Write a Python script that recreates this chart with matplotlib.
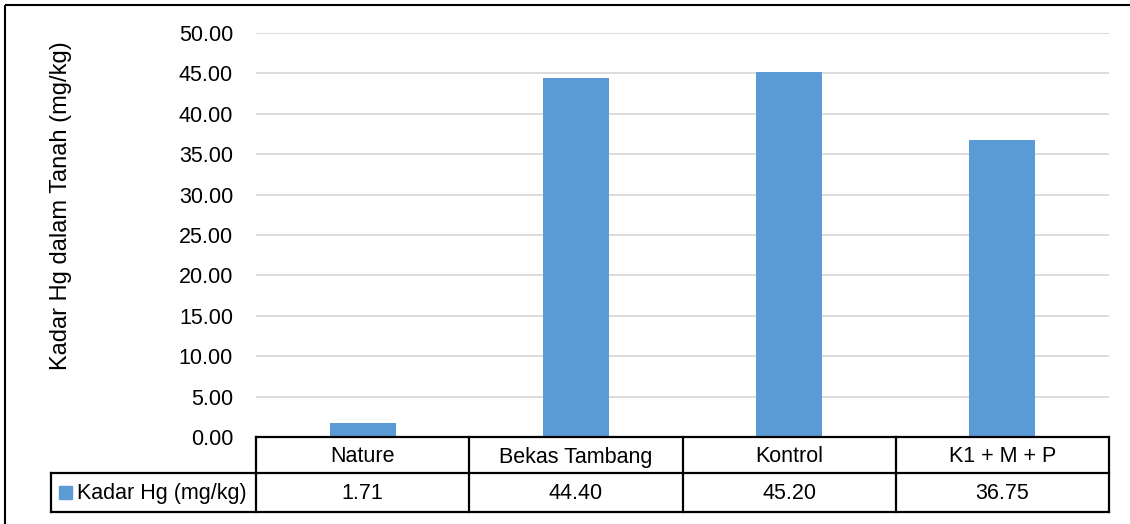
import matplotlib
matplotlib.use("Agg")
import matplotlib.pyplot as plt
from matplotlib.lines import Line2D
from matplotlib.patches import Rectangle

categories = ["Nature", "Bekas Tambang", "Kontrol", "K1 + M + P"]
values = [1.71, 44.40, 45.20, 36.75]
value_labels = ["1.71", "44.40", "45.20", "36.75"]
series_name = "Kadar Hg (mg/kg)"
y_label = "Kadar Hg dalam Tanah (mg/kg)"
y_ticks = [0, 5, 10, 15, 20, 25, 30, 35, 40, 45, 50]

BAR_COLOR = "#5B9BD5"
GRID_COLOR = "#D9D9D9"
FONT = "Liberation Sans"
FS = 15.5
FS_TITLE = 17

W, H = 1130, 524
fig = plt.figure(figsize=(W / 100, H / 100), dpi=100)
fig.patch.set_facecolor("white")

# pixel geometry
left_px, right_px = 256, 1109
top_px, zero_px = 33, 437
row1_bottom, row2_bottom = 473, 512
legend_left = 51

ax = fig.add_axes([left_px / W, 1 - zero_px / H, (right_px - left_px) / W, (zero_px - top_px) / H])
x = list(range(len(categories)))
ax.bar(x, values, width=0.31, color=BAR_COLOR, zorder=3)
ax.set_xlim(-0.5, len(categories) - 0.5)
ax.set_ylim(0, 50)
ax.set_yticks(y_ticks)
ax.set_yticklabels([f"{t:.2f}" for t in y_ticks], fontsize=FS, family=FONT)
ax.tick_params(axis="y", length=0, pad=16.5)
ax.set_xticks([])
for s in ax.spines.values():
    s.set_visible(False)
ax.yaxis.grid(True, color=GRID_COLOR, linewidth=1.3, zorder=0)
ax.set_axisbelow(True)

# overlay in pixel coordinates
ov = fig.add_axes([0, 0, 1, 1], facecolor="none")
ov.set_xlim(0, W)
ov.set_ylim(H, 0)
ov.axis("off")

ov.text(61, 206, y_label, rotation=90, ha="center", va="center", fontsize=FS_TITLE, family=FONT)

lw = 1.6
col_w = (right_px - left_px) / len(categories)
# horizontal lines
ov.add_line(Line2D([left_px, right_px], [zero_px, zero_px], color="black", lw=lw))
ov.add_line(Line2D([legend_left, right_px], [row1_bottom, row1_bottom], color="black", lw=lw))
ov.add_line(Line2D([legend_left, right_px], [row2_bottom, row2_bottom], color="black", lw=lw))
# vertical lines
ov.add_line(Line2D([legend_left, legend_left], [row1_bottom, row2_bottom], color="black", lw=lw))
for i in range(len(categories) + 1):
    xx = left_px + i * col_w
    ov.add_line(Line2D([xx, xx], [zero_px, row2_bottom], color="black", lw=lw))

for i, (c, v) in enumerate(zip(categories, value_labels)):
    cx = left_px + (i + 0.5) * col_w
    ov.text(cx, (zero_px + row1_bottom) / 2 + 2, c, ha="center", va="center", fontsize=FS, family=FONT)
    ov.text(cx, (row1_bottom + row2_bottom) / 2 + 1, v, ha="center", va="center", fontsize=FS, family=FONT)

# legend key + series name
ov.add_patch(Rectangle((59, 486), 13, 13, color=BAR_COLOR))
ov.text(77, (row1_bottom + row2_bottom) / 2 + 1, series_name, ha="left", va="center", fontsize=FS, family=FONT)

# outer border
ov.add_patch(Rectangle((5, 5), W + 10, H + 10, fill=False, edgecolor="black", lw=1.5))

fig.savefig("out.png", dpi=100)
